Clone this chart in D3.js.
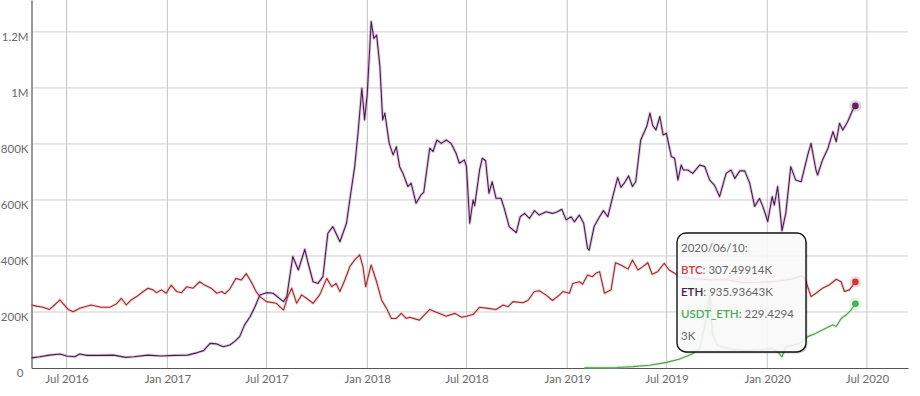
<!DOCTYPE html>
<html>
<head>
<meta charset="utf-8">
<script src="https://cdn.jsdelivr.net/npm/d3@7"></script>
<style>
  html, body { margin: 0; padding: 0; background: #fff; }
  svg { display: block; font-family: "Lato", "Open Sans", sans-serif; }
</style>
</head>
<body>
<svg id="chart" width="920" height="396"></svg>
<script>
// ---------- DATA (values in thousands) ----------
const ethDates = ["2016-04-28","2016-05-13","2016-05-31","2016-06-19","2016-07-01","2016-07-16","2016-07-25","2016-08-07","2016-08-31","2016-09-25","2016-10-17","2016-11-01","2016-11-26","2016-12-20","2017-01-13","2017-02-07","2017-02-25","2017-03-08","2017-03-20","2017-04-01","2017-04-13","2017-04-25","2017-05-04","2017-05-13","2017-05-22","2017-06-01","2017-06-10","2017-06-19","2017-07-01","2017-07-13","2017-08-01","2017-08-07","2017-08-18","2017-08-28","2017-09-09","2017-09-15","2017-09-24","2017-10-03","2017-10-12","2017-10-21","2017-10-30","2017-11-12","2017-11-24","2017-11-30","2017-12-09","2017-12-15","2017-12-22","2017-12-27","2018-01-01","2018-01-08","2018-01-13","2018-01-18","2018-01-24","2018-01-29","2018-02-02","2018-02-10","2018-02-17","2018-02-23","2018-03-01","2018-03-07","2018-03-16","2018-03-22","2018-03-31","2018-04-09","2018-04-14","2018-04-25","2018-05-01","2018-05-08","2018-05-16","2018-05-25","2018-06-03","2018-06-12","2018-06-18","2018-06-27","2018-07-01","2018-07-07","2018-07-13","2018-07-16","2018-07-25","2018-07-30","2018-08-05","2018-08-11","2018-08-17","2018-08-24","2018-09-02","2018-09-08","2018-09-17","2018-09-30","2018-10-07","2018-10-15","2018-10-24","2018-11-02","2018-11-11","2018-11-23","2018-12-05","2018-12-14","2018-12-22","2018-12-30","2019-01-08","2019-01-14","2019-01-23","2019-01-31","2019-02-07","2019-02-10","2019-02-19","2019-03-01","2019-03-08","2019-03-16","2019-03-25","2019-04-03","2019-04-09","2019-04-15","2019-04-23","2019-04-30","2019-05-06","2019-05-15","2019-05-26","2019-06-01","2019-06-06","2019-06-12","2019-06-19","2019-06-25","2019-07-01","2019-07-10","2019-07-16","2019-07-22","2019-07-28","2019-08-01","2019-08-09","2019-08-18","2019-08-31","2019-09-09","2019-09-18","2019-09-27","2019-10-06","2019-10-18","2019-10-27","2019-11-03","2019-11-12","2019-11-21","2019-11-30","2019-12-09","2019-12-18","2019-12-24","2020-01-02","2020-01-10","2020-01-14","2020-01-20","2020-01-28","2020-02-04","2020-02-13","2020-02-22","2020-03-03","2020-03-15","2020-03-21","2020-03-30","2020-04-02","2020-04-11","2020-04-21","2020-04-30","2020-05-06","2020-05-12","2020-05-18","2020-05-27","2020-06-05","2020-06-10"];
const ethValues = [36,40,46,50,43,40,50,45,45,46,38,40,46,43,45,46,55,62,88,86,76,82,95,112,154,183,219,261,269,267,237,255,398,350,424,374,308,302,326,481,505,451,517,600,719,838,999,886,981,1237,1177,1189,1076,886,910,802,761,790,719,695,648,660,588,618,627,785,773,814,802,814,802,767,731,743,719,517,600,580,707,749,740,624,665,606,606,570,505,483,540,552,534,562,546,558,552,558,567,529,540,522,546,517,427,421,505,540,562,540,612,680,645,660,686,648,665,814,862,910,866,850,898,832,838,755,749,671,725,707,707,695,725,719,671,652,612,695,707,677,704,704,660,577,605,577,523,612,582,648,490,553,719,671,665,761,802,707,689,743,785,844,808,874,850,880,921,935.93643];

const btcDates = ["2016-04-28","2016-05-07","2016-05-19","2016-05-31","2016-06-09","2016-06-19","2016-06-25","2016-07-04","2016-07-13","2016-07-25","2016-08-15","2016-09-02","2016-09-18","2016-09-30","2016-10-09","2016-10-18","2016-10-27","2016-11-06","2016-11-18","2016-11-27","2016-12-06","2016-12-12","2016-12-21","2016-12-30","2017-01-08","2017-01-18","2017-01-27","2017-02-05","2017-02-17","2017-03-01","2017-03-10","2017-03-22","2017-04-01","2017-04-10","2017-04-16","2017-04-25","2017-05-06","2017-05-16","2017-05-25","2017-06-03","2017-06-12","2017-06-19","2017-07-01","2017-07-19","2017-08-01","2017-08-10","2017-08-16","2017-08-25","2017-09-03","2017-09-12","2017-09-24","2017-10-06","2017-10-19","2017-10-28","2017-11-05","2017-11-12","2017-11-21","2017-11-30","2017-12-09","2017-12-18","2017-12-24","2017-12-29","2018-01-08","2018-01-18","2018-01-27","2018-02-05","2018-02-14","2018-02-23","2018-03-04","2018-03-13","2018-03-19","2018-04-06","2018-04-25","2018-05-07","2018-05-25","2018-06-10","2018-06-22","2018-07-01","2018-07-13","2018-07-25","2018-08-09","2018-08-24","2018-09-06","2018-09-15","2018-09-24","2018-10-12","2018-10-21","2018-11-02","2018-11-11","2018-11-23","2018-12-05","2018-12-18","2018-12-24","2019-01-05","2019-01-11","2019-01-23","2019-01-29","2019-02-07","2019-02-16","2019-02-22","2019-03-01","2019-03-10","2019-03-22","2019-03-30","2019-04-09","2019-04-22","2019-04-30","2019-05-10","2019-05-19","2019-05-28","2019-06-05","2019-06-15","2019-06-27","2019-07-06","2019-07-16","2019-07-24","2019-08-17","2019-09-18","2019-10-19","2019-11-17","2019-12-18","2020-01-18","2020-02-16","2020-03-05","2020-03-11","2020-03-21","2020-03-30","2020-04-11","2020-04-23","2020-05-06","2020-05-15","2020-05-21","2020-05-30","2020-06-10"];
const btcValues = [225,221,217,209,225,243,229,209,201,213,225,217,217,229,249,225,243,255,273,285,279,269,279,267,296,273,269,290,285,308,296,285,267,273,265,282,320,314,337,308,273,255,237,231,207,261,285,231,261,249,231,261,320,290,302,273,314,362,386,404,362,290,368,308,243,213,177,177,195,177,181,171,209,199,185,195,181,185,191,217,213,209,225,219,237,233,241,273,276,261,241,261,273,267,302,308,299,332,326,338,344,267,279,376,368,353,386,350,362,376,335,344,374,350,338,326,320,315,315,305,306,310,318,330,314,255,267,285,296,317,308,273,279,307.49914];

const usdtDates = ["2019-02-01","2019-03-01","2019-04-01","2019-05-01","2019-06-01","2019-07-01","2019-07-24","2019-08-17","2019-08-31","2019-09-10","2019-09-18","2019-09-23","2019-10-03","2019-10-24","2019-11-21","2019-12-18","2020-01-10","2020-01-20","2020-01-28","2020-02-04","2020-03-01","2020-03-15","2020-03-30","2020-04-17","2020-04-30","2020-05-06","2020-05-15","2020-05-24","2020-06-02","2020-06-10"];
const usdtValues = [0.5,1,2,5,10,20,31,50,70,160,265,120,80,68,62,65,70,58,40,76,88,112,124,142,154,148,177,189,207,229.42943];

const yTickValues = [0, 200, 400, 600, 800, 1000, 1200];
const yTickLabels = ["0", "200K", "400K", "600K", "800K", "1M", "1.2M"];
const xTickDates = ["2016-07-01","2017-01-01","2017-07-01","2018-01-01","2018-07-01","2019-01-01","2019-07-01","2020-01-01","2020-07-01"];
const xTickLabels = ["Jul 2016","Jan 2017","Jul 2017","Jan 2018","Jul 2018","Jan 2019","Jul 2019","Jan 2020","Jul 2020"];

const tooltipDate = "2020/06/10:";
const tooltipRows = [
  {name: "BTC", value: "307.49914K"},
  {name: "ETH", value: "935.93643K"},
  {name: "USDT_ETH", value: "229.4294"},
  {name: "", value: "3K"}
];

// ---------- CHART ----------
const parse = d3.timeParse("%Y-%m-%d");
const svg = d3.select("#chart");
const pLeft = 31.5, pRight = 908, pTop = 0, pBottom = 368;

const x = d3.scaleTime()
  .domain([parse("2016-04-28"), parse("2020-09-14")])
  .range([pLeft, pRight]);
const y = d3.scaleLinear().domain([0, 1314]).range([pBottom, pTop]);

// gridlines
const grid = svg.append("g");
grid.selectAll("line.h").data(yTickValues.slice(1)).enter().append("line")
  .attr("x1", pLeft).attr("x2", pRight)
  .attr("y1", d => y(d)).attr("y2", d => y(d))
  .attr("stroke", "#cfcfcf").attr("stroke-width", 1);
grid.selectAll("line.v").data(xTickDates).enter().append("line")
  .attr("x1", d => x(parse(d))).attr("x2", d => x(parse(d)))
  .attr("y1", pTop).attr("y2", pBottom)
  .attr("stroke", "#c4c4c4").attr("stroke-width", 1);

// y axis
const yAxis = d3.axisLeft(y).tickValues(yTickValues)
  .tickFormat((d, i) => yTickLabels[i]).tickSize(0).tickPadding(4);
const yg = svg.append("g").attr("transform", `translate(${pLeft},0)`).call(yAxis);
yg.select(".domain").attr("stroke", "#555").attr("stroke-width", 1.2);
yg.selectAll("text").attr("fill", "#6a6a6a").attr("font-size", 11.5)
  .attr("font-family", "Lato, 'Open Sans', sans-serif").attr("dy", "0.75em")
  .attr("x", -3);
yg.selectAll(".tick").filter(d => d === 0).select("text").attr("x", -8);

// x axis
const xAxis = d3.axisBottom(x).tickValues(xTickDates.map(parse))
  .tickFormat((d, i) => xTickLabels[i]).tickSize(0).tickPadding(7);
const xg = svg.append("g").attr("transform", `translate(0,${pBottom})`).call(xAxis);
xg.select(".domain").attr("stroke", "#555").attr("stroke-width", 1.2);
xg.selectAll("text").attr("fill", "#6a6a6a").attr("font-size", 11.5)
  .attr("font-family", "Lato, 'Open Sans', sans-serif");

// series
const series = [
  {dates: btcDates, values: btcValues, core: "#9c2a2e", glow: "#e58a8a", dot: "#c83a40"},
  {dates: usdtDates, values: usdtValues, core: "#4e9e4e", glow: "#9bd89b", dot: "#4cb050"},
  {dates: ethDates, values: ethValues, core: "#4a1d4c", glow: "#a86aa8", dot: "#5e2460"}
];
const line = d3.line().x(d => x(d[0])).y(d => y(d[1])).curve(d3.curveLinear);
series.forEach(s => {
  const pts = s.dates.map((d, i) => [parse(d), s.values[i]]);
  svg.append("path").datum(pts).attr("d", line).attr("fill", "none")
    .attr("stroke", s.glow).attr("stroke-width", 3).attr("stroke-opacity", 0.35)
    .attr("stroke-linejoin", "round");
  svg.append("path").datum(pts).attr("d", line).attr("fill", "none")
    .attr("stroke", s.core).attr("stroke-width", 1.1).attr("stroke-linejoin", "round");
  const last = pts[pts.length - 1];
  svg.append("circle").attr("cx", x(last[0])).attr("cy", y(last[1])).attr("r", 6)
    .attr("fill", s.glow).attr("opacity", 0.3);
  svg.append("circle").attr("cx", x(last[0])).attr("cy", y(last[1])).attr("r", 3.3)
    .attr("fill", s.dot);
});

// tooltip
const tipColors = {"BTC": "#c8403f", "ETH": "#4a1d4c", "USDT_ETH": "#4cae55"};
const tip = svg.append("g").attr("transform", "translate(677,233)");
tip.append("rect").attr("x", 1.5).attr("y", 1.5).attr("width", 129).attr("height", 119)
  .attr("rx", 9).attr("fill", "#000").attr("opacity", 0.18);
tip.append("rect").attr("width", 129).attr("height", 119).attr("rx", 9)
  .attr("fill", "#fff").attr("fill-opacity", 0.86)
  .attr("stroke", "#111").attr("stroke-width", 1.4);
tip.append("text").attr("x", 4).attr("y", 19).attr("font-size", 11.5)
  .attr("fill", "#666").text(tooltipDate);
tooltipRows.forEach((r, i) => {
  const t = tip.append("text").attr("x", 4).attr("y", 41 + i * 22).attr("font-size", 11.5);
  if (r.name) {
    t.append("tspan").attr("fill", tipColors[r.name]).attr("font-weight", 600).text(r.name);
    t.append("tspan").attr("fill", "#666").text(": " + r.value);
  } else {
    t.append("tspan").attr("fill", "#666").text(r.value);
  }
});
</script>
</body>
</html>
